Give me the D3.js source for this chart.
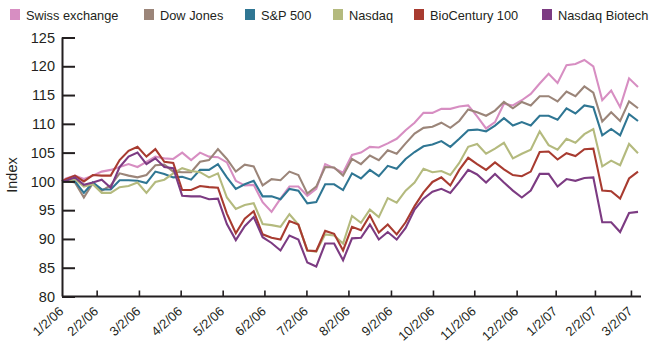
<!DOCTYPE html>
<html>
<head>
<meta charset="utf-8">
<script src="https://cdn.jsdelivr.net/npm/d3@7"></script>
<style>
  html, body { margin: 0; padding: 0; background: #fff; }
  svg { display: block; font-family: "Liberation Sans", Arial, Helvetica, sans-serif; }
</style>
</head>
<body>
<svg id="chart" width="650" height="344"></svg>
<script>
// ---- data ----
const seriesNames = ["Swiss exchange", "Dow Jones", "S&P 500", "Nasdaq", "BioCentury 100", "Nasdaq Biotech"];
const seriesColors = ["#d78ec2", "#9b8579", "#2f7693", "#b4ba7e", "#a83b30", "#7c3b82"];

const swiss = [100,100.5,101,100.4,101,101.7,102,102.5,103,102.5,103.4,104.3,104,103.9,105,103.7,105,104.3,104.2,103.3,100.1,99.3,99.4,96.4,94.7,97,99.1,99.1,97.5,98.7,103,102.3,101.5,104.6,105,106,105.9,106.6,107.4,108.9,110.2,111.9,111.9,112.6,112.6,113,113.2,111.3,109.2,110.3,113.5,113.2,114.1,115.2,117,118.7,117.1,120.2,120.4,121.1,120,114.1,115.8,112.9,117.9,116.4];
const dow = [100,100.1,99.8,97.2,99.7,98.4,99.3,101.4,101,100.7,101.1,102.8,102.9,101.7,101.6,101.6,103.4,103.7,105.6,103.9,101.7,102.9,102.6,99.3,100.4,100.2,101.7,101.1,97.9,99.1,102.5,102.4,101,103.9,103,104.5,103.7,105.4,104.8,106.6,108.3,109.3,109.5,110.2,109.3,110.5,112.5,112,111.4,112.3,113.8,112.7,113.8,113.2,114.8,114.8,113.9,115.6,114.8,116.5,115.4,110.4,112,110.5,113.9,112.7];
const sp500 = [100,100,100,98,99.8,98.6,98.6,100.2,100.2,100.1,99.7,101.7,101.3,100.7,100.8,100.3,102,102,103,100.7,98.7,99.5,100.1,97.4,97.4,96.9,98.7,98.4,96.2,96.4,99.5,99.5,98.5,101.4,100.5,102,100.9,102.7,102.2,103.9,105.1,106.1,106.4,107,106,107.4,108.9,109,108.7,109.7,111,109.7,110.3,109.7,111.4,111.4,110.7,112.7,111.8,113.2,112.9,108,109.1,108,111.7,110.5];
const nasdaq = [100,100,100.4,99.1,99.5,98,98,99,99.2,99.8,98,99.9,100.3,101.4,102.3,101.8,101.6,100.7,101.4,97.2,95.2,95.9,96.2,92.6,92.4,92.1,94.3,92.5,88,87.8,90.8,90.6,89.2,94,92.8,95.1,93.8,97.1,96.3,98.4,99.8,102.2,101.6,101.8,101.1,103.2,106,106.5,104.8,105.7,106.7,104,104.8,105.5,108.7,106.3,105.5,107.4,106.7,108.2,109.1,102.6,103.6,102.8,106.5,104.9];
const bioCentury = [100,100.4,101,100,101.1,101,101,103.7,105.3,106,104.3,105.6,103.4,103.2,98.5,98.5,99.2,99,98.9,94.4,91,93.5,94.8,90.8,90.2,89.9,93.1,92.5,88,87.9,91.4,90.9,88,92.1,91.5,94.1,91.1,92.5,90.8,92.9,95.7,98.1,99.9,100.7,99.3,102,104.1,103,102,103.3,102.1,101.1,100.9,101.7,105.1,105.2,103.8,104.9,104.4,105.6,105.7,98.4,98.3,97,100.5,101.7];
const biotech = [100,100.1,100.7,99.4,99.8,100.3,98.9,102.5,104.3,105,103,104,102.5,102.3,97.5,97.4,97.4,96.9,97,92.6,89.8,92.2,93.8,90.3,89.3,88,90.6,89.9,85.9,85.2,89.2,89.2,86.3,90.1,90.2,92.5,89.9,91.2,89.9,91.9,95.1,97,98.2,98.7,98,99.9,102,101.2,99.8,101.3,99.8,98.4,97.2,98.4,101.3,101.3,99.1,100.4,100.1,100.6,100.7,92.9,92.9,91.2,94.5,94.7];

const allSeries = [swiss, dow, sp500, nasdaq, bioCentury, biotech];

const xTickLabels = ["1/2/06","2/2/06","3/2/06","4/2/06","5/2/06","6/2/06","7/2/06","8/2/06","9/2/06","10/2/06","11/2/06","12/2/06","1/2/07","2/2/07","3/2/07"];
// tick locations expressed in observation-index units
const xTickIndex = [0,4.43,9.16,13.83,18.53,23.2,27.9,32.6,37.36,42.06,46.68,51.42,55.79,60.18,64.21];
const yTicks = [80,85,90,95,100,105,110,115,120,125];

// ---- chart ----
const svg = d3.select("#chart");
const nPts = swiss.length;

const x = d3.scaleLinear().domain([0, 1, nPts - 1]).range([62, 66, 638]);
const y = d3.scaleLinear().domain([80, 125]).range([296.5, 37.5]);

// lines
const line = d3.line().x((d, i) => x(i)).y(d => y(d));
allSeries.forEach((s, k) => {
  svg.append("path")
    .datum(s)
    .attr("fill", "none")
    .attr("stroke", seriesColors[k])
    .attr("stroke-width", 2.1)
    .attr("stroke-linejoin", "miter")
    .attr("d", line);
});

// y axis
const yAxis = d3.axisRight(y).tickValues(yTicks).tickSize(13).tickFormat(d3.format("d"));
const gy = svg.append("g").attr("transform", "translate(62,0)").call(yAxis);
gy.select(".domain").attr("d", `M0.5,${y(125)}V${y(80)}`).attr("stroke", "#231f20").attr("stroke-width", 2);
gy.selectAll(".tick line").attr("stroke", "#231f20").attr("stroke-width", 2);
gy.selectAll(".tick text")
  .attr("x", -7)
  .attr("text-anchor", "end")
  .attr("font-size", 14.5)
  .attr("fill", "#231f20");

// x axis
const xAxis = d3.axisTop(x).tickValues(xTickIndex).tickSize(6).tickFormat((d, i) => xTickLabels[i]);
const gx = svg.append("g").attr("transform", `translate(0,${y(80)})`).call(xAxis);
gx.select(".domain").attr("d", `M62,0H641`).attr("stroke", "#231f20").attr("stroke-width", 2);
gx.selectAll(".tick line").attr("stroke", "#231f20").attr("stroke-width", 1.6);
gx.selectAll(".tick").filter((d, i) => i === 0).select("line").remove();
gx.selectAll(".tick text")
  .attr("y", 0)
  .attr("dy", 0)
  .attr("text-anchor", "end")
  .attr("font-size", 13)
  .attr("fill", "#231f20")
  .attr("transform", "translate(2,16) rotate(-42)");

// y title
svg.append("text")
  .attr("transform", `translate(17,${(y(80) + y(125)) / 2 + 8}) rotate(-90)`)
  .attr("text-anchor", "middle")
  .attr("font-size", 14.5)
  .attr("fill", "#231f20")
  .text("Index");

// legend
const legendX = [10, 144, 245, 333, 414, 542];
const lg = svg.append("g");
seriesNames.forEach((name, k) => {
  const g = lg.append("g").attr("transform", `translate(${legendX[k]},9)`);
  g.append("rect").attr("width", 10).attr("height", 11).attr("fill", seriesColors[k]);
  g.append("text").attr("x", 16).attr("y", 10.5)
    .attr("font-size", 12.8).attr("fill", "#231f20").text(name);
});
</script>
</body>
</html>
